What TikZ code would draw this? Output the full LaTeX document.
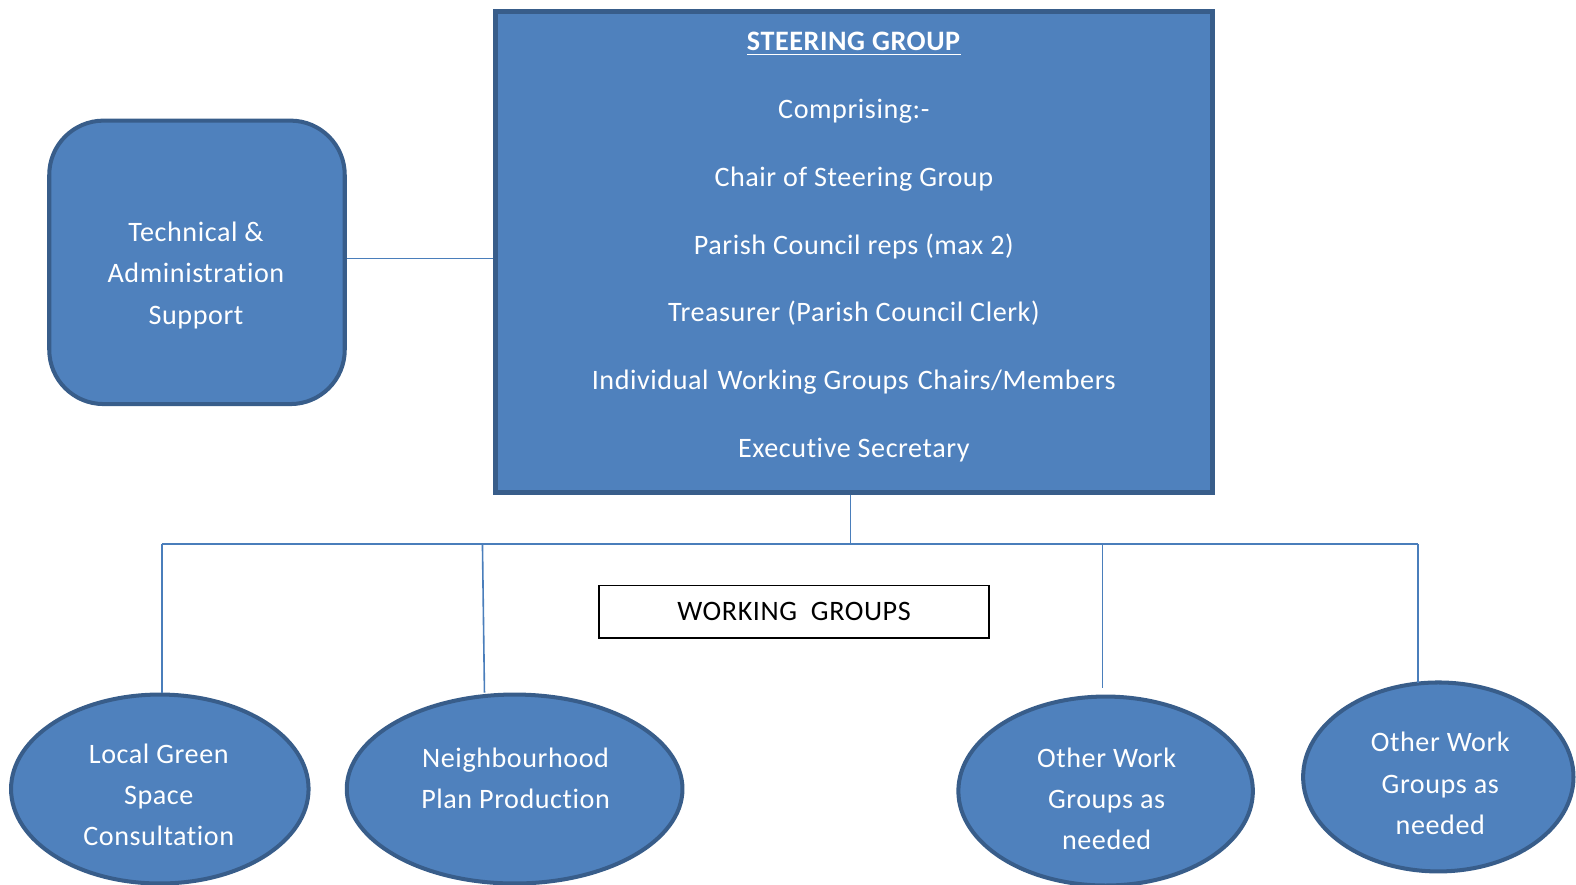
\documentclass[tikz,border=0pt]{standalone}
\usepackage{fontspec}
\setmainfont{Carlito}[Ligatures=NoCommon,LetterSpace=2]
\usetikzlibrary{shapes.geometric}
\definecolor{boxfill}{HTML}{4F81BD}
\definecolor{boxedge}{HTML}{385D8A}
\definecolor{linkcol}{HTML}{4A7EBB}

\begin{document}
\begin{tikzpicture}[x=0.5pt,y=-0.5pt,
  bluebox/.style={draw=boxedge,line width=2pt,fill=boxfill,inner sep=0pt},
  group/.style={bluebox,ellipse,minimum height=94pt},
  boxtext/.style={text=white,align=center,font=\fontsize{14}{20.5}\selectfont},
  link/.style={draw=linkcol,line width=0.8pt}]
\useasboundingbox (0,0) rectangle (1568,880);

\node[bluebox,line width=2.5pt,minimum width=356.5pt,minimum height=239.5pt] (sg) at (849.5,250.5) {};
\node[boxtext,font=\fontsize{14}{33.7}\selectfont] (sglist) at (849.5,246) {\underline{\textbf{STEERING GROUP}}\\
  Comprising:-\\ Chair of Steering Group\\ Parish Council reps (max 2)\\
  Treasurer (Parish Council Clerk)\\ Individual\hspace{1pt} Working Groups\hspace{1pt} Chairs/Members\\
  Executive Secretary};

\node[bluebox,rounded corners=27pt,minimum width=147pt,minimum height=141pt] (ta) at (196,261) {};
\node[boxtext] (talabel) at (195,274) {Technical \&\\Administration\\Support};

\node[group,minimum width=148pt] (g1) at (159,785) {};
\node[group,minimum width=167pt] (g2) at (512,785) {};
\node[group,minimum width=146.5pt] (g3) at (1100,787) {};
\node[group,minimum width=134.5pt] (g4) at (1431,773) {};
\node[boxtext] (g1label) at (158,791) {Local Green\\Space\\Consultation};
\node[boxtext] (g2label) at (513,774.5) {Neighbourhood\\Plan Production};
\node[boxtext] (g3label) at (1101,795) {Other Work\\Groups as\\needed};
\node[boxtext] (g4label) at (1433,779.5) {Other Work\\Groups as\\needed};

\node[draw=black,line width=0.8pt,minimum width=194pt,minimum height=26pt,font=\fontsize{14}{16}\selectfont] (wg) at (790,608.5) {WORKING\ \ GROUPS};

\coordinate (sgfoot) at (846,541);
\coordinate (b1) at (161,541);
\coordinate (b2) at (480,541);
\coordinate (b3) at (1097,541);
\coordinate (b4) at (1411,541);

\draw[link] ([yshift=2pt]ta.east) -- ([yshift=2pt]ta.east -| sg.west);
\draw[link] (sgfoot |- sg.south) -- (sgfoot);
\draw[link] (b1) -- (b4);
\draw[link] (b1) -- (b1 |- g1.north);
\draw[link] (b2) -- ([xshift=1pt]b2 |- g2.north);
\draw[link] (b3) -- ([yshift=3.5pt]b3 |- g3.north);
\draw[link] (b4) -- ([yshift=-1.5pt]b4 |- g4.north);
\end{tikzpicture}
\end{document}
